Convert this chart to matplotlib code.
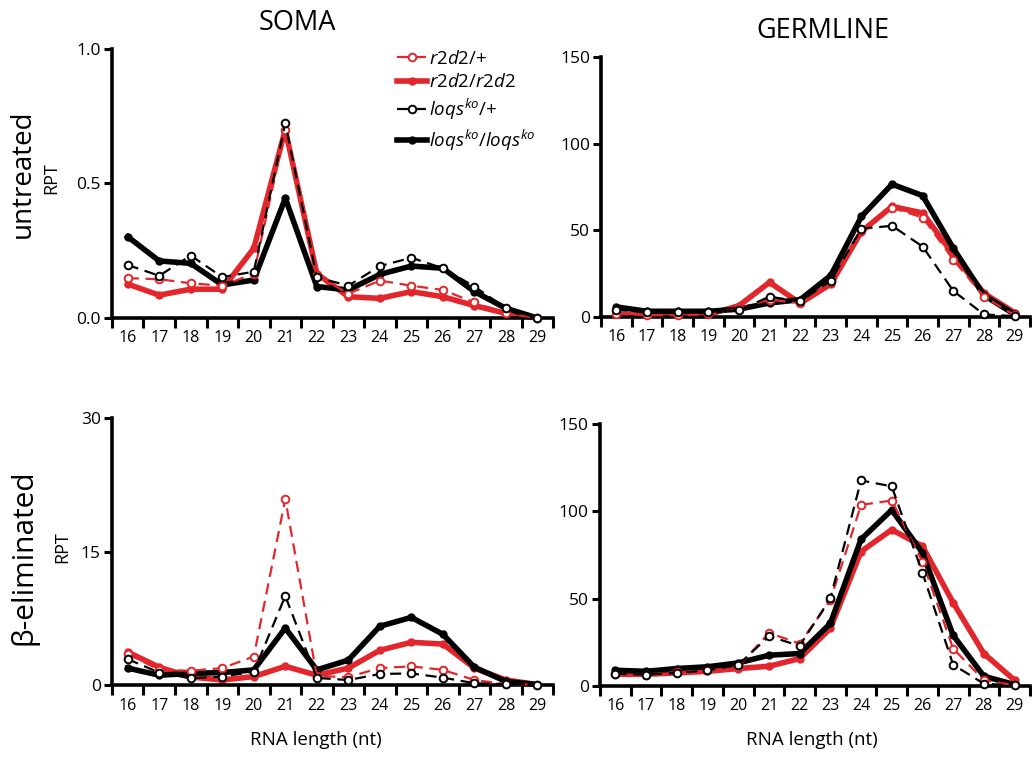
import matplotlib
matplotlib.use("Agg")
import matplotlib.pyplot as plt
import numpy as np

plt.rcParams['font.family'] = ['Open Sans', 'DejaVu Sans']
plt.rcParams['mathtext.fontset'] = 'custom'
plt.rcParams['mathtext.rm'] = 'Open Sans'
plt.rcParams['mathtext.it'] = 'Open Sans:italic'

# RNA lengths (nt)
lengths = np.arange(16, 30)

# Soma, untreated
soma_unt_r2d2_het = [0.148, 0.144, 0.129, 0.12, 0.165, 0.70, 0.16, 0.09, 0.139, 0.12, 0.104, 0.058, 0.017, 0.0]
soma_unt_r2d2_mut = [0.126, 0.085, 0.107, 0.107, 0.259, 0.70, 0.165, 0.079, 0.073, 0.098, 0.079, 0.046, 0.017, 0.0]
soma_unt_loqs_het = [0.197, 0.157, 0.232, 0.152, 0.172, 0.724, 0.151, 0.12, 0.193, 0.224, 0.185, 0.117, 0.036, 0.0]
soma_unt_loqs_mut = [0.302, 0.212, 0.203, 0.123, 0.141, 0.445, 0.117, 0.104, 0.162, 0.193, 0.185, 0.098, 0.036, 0.0]

# Germline, untreated
germ_unt_r2d2_het = [2.0, 1.0, 1.0, 1.5, 5.0, 10.0, 8.0, 21.0, 50.0, 63.0, 57.4, 33.0, 11.7, 1.0]
germ_unt_r2d2_mut = [1.5, 1.0, 1.0, 1.5, 6.5, 20.0, 7.9, 19.0, 49.3, 63.8, 60.0, 35.9, 13.7, 2.5]
germ_unt_loqs_het = [4.0, 3.0, 3.0, 3.0, 4.0, 11.7, 9.0, 21.0, 51.0, 52.6, 40.6, 15.0, 1.5, 0.5]
germ_unt_loqs_mut = [5.8, 3.3, 3.3, 3.3, 4.5, 8.1, 10.0, 24.0, 58.0, 76.6, 70.0, 39.6, 12.5, 1.5]

# Soma, beta-eliminated
soma_be_r2d2_het = [3.5, 1.7, 1.6, 1.9, 3.2, 20.9, 1.0, 0.9, 1.9, 2.1, 1.7, 0.56, 0.1, 0.05]
soma_be_r2d2_mut = [3.7, 2.0, 0.9, 0.56, 0.95, 2.1, 1.1, 1.9, 3.9, 4.8, 4.6, 1.9, 0.56, 0.05]
soma_be_loqs_het = [2.9, 1.4, 0.75, 0.95, 1.5, 10.0, 0.8, 0.56, 1.24, 1.3, 0.83, 0.2, 0.1, 0.05]
soma_be_loqs_mut = [1.9, 1.1, 1.3, 1.4, 1.7, 6.4, 1.7, 2.8, 6.6, 7.6, 5.7, 2.0, 0.4, 0.05]

# Germline, beta-eliminated
germ_be_r2d2_het = [7.0, 6.5, 8.0, 9.0, 11.0, 30.4, 24.3, 49.0, 103.7, 106.2, 71.2, 21.4, 3.3, 0.5]
germ_be_r2d2_mut = [6.7, 6.7, 7.5, 8.4, 10.0, 11.3, 15.7, 33.0, 77.0, 89.5, 80.0, 47.7, 18.6, 3.3]
germ_be_loqs_het = [7.0, 6.5, 7.5, 9.0, 12.0, 28.5, 23.0, 50.1, 117.7, 114.3, 64.8, 12.2, 1.3, 0.3]
germ_be_loqs_mut = [9.0, 8.4, 10.0, 11.0, 13.2, 17.6, 18.6, 35.8, 84.0, 100.8, 76.3, 29.0, 5.6, 0.8]

labels = ['$r2d2$/+', '$r2d2$/$r2d2$', '$loqs^{ko}$/+', '$loqs^{ko}$/$loqs^{ko}$']

red = '#e3262b'


def draw_panel(ax, series, ymax, yticks, yfmt, show_legend=False):
	r_het, r_mut, l_het, l_mut = series
	ax.plot(lengths, r_het, color=red, lw=1.6, ls=(0, (5, 3)), marker='o', ms=5.5,
			mfc='white', mec=red, mew=1.4, clip_on=False, zorder=3, label=labels[0])
	ax.plot(lengths, r_mut, color=red, lw=4, marker='o', ms=5, mfc=red, mec=red,
			clip_on=False, zorder=2, label=labels[1])
	ax.plot(lengths, l_het, color='black', lw=1.6, ls=(0, (5, 3)), marker='o', ms=5.5,
			mfc='white', mec='black', mew=1.4, clip_on=False, zorder=4, label=labels[2])
	ax.plot(lengths, l_mut, color='black', lw=4, marker='o', ms=5, mfc='black', mec='black',
			clip_on=False, zorder=2, label=labels[3])

	ax.set_xlim(15.5, 29.5)
	ax.set_ylim(0, ymax)
	ax.set_yticks(yticks)
	ax.set_yticklabels([yfmt.format(t) for t in yticks])
	ax.set_xticks(np.arange(15.5, 30, 1.0))
	ax.set_xticklabels([])
	ax.set_xticks(lengths, minor=True)
	ax.set_xticklabels([str(v) for v in lengths], minor=True)
	ax.tick_params(axis='x', which='major', length=7, width=2.2, direction='out')
	ax.tick_params(axis='x', which='minor', length=0, labelsize=11.5, pad=9)
	ax.tick_params(axis='y', length=6, width=2.2, labelsize=12.5, pad=2)

	for s in ['top', 'right']:
		ax.spines[s].set_visible(False)
	for s in ['left', 'bottom']:
		ax.spines[s].set_linewidth(2.6)

	if show_legend:
		ax.legend(loc='upper left', bbox_to_anchor=(0.63, 1.025), frameon=False,
				  fontsize=13.5, handlelength=1.6, handletextpad=0.1,
				  labelspacing=0.3, borderaxespad=0)


fig = plt.figure(figsize=(10.32, 7.58), dpi=100)

ax_tl = fig.add_axes([0.1085, 0.5805, 0.4275, 0.3549])
ax_tr = fig.add_axes([0.5824, 0.5818, 0.4156, 0.3430])
ax_bl = fig.add_axes([0.1085, 0.0963, 0.4275, 0.3522])
ax_br = fig.add_axes([0.5814, 0.0950, 0.4166, 0.3456])

draw_panel(ax_tl, [soma_unt_r2d2_het, soma_unt_r2d2_mut, soma_unt_loqs_het, soma_unt_loqs_mut],
		   1.0, [0.0, 0.5, 1.0], '{:.1f}', show_legend=True)
draw_panel(ax_tr, [germ_unt_r2d2_het, germ_unt_r2d2_mut, germ_unt_loqs_het, germ_unt_loqs_mut],
		   150, [0, 50, 100, 150], '{:d}')
draw_panel(ax_bl, [soma_be_r2d2_het, soma_be_r2d2_mut, soma_be_loqs_het, soma_be_loqs_mut],
		   30, [0, 15, 30], '{:d}')
draw_panel(ax_br, [germ_be_r2d2_het, germ_be_r2d2_mut, germ_be_loqs_het, germ_be_loqs_mut],
		   150, [0, 50, 100, 150], '{:d}')

# Titles and labels
fig.text(297 / 1032, 1 - 23 / 758, 'SOMA', fontsize=19.5, ha='center', va='center')
fig.text(823 / 1032, 1 - 31 / 758, 'GERMLINE', fontsize=19.5, ha='center', va='center')
fig.text(23 / 1032, 1 - 174 / 758, 'untreated', fontsize=20, rotation=90, ha='center', va='center')
fig.text(24 / 1032, 1 - 557 / 758, 'β-eliminated', fontsize=21.5, rotation=90, ha='center', va='center')
fig.text(51 / 1032, 1 - 178 / 758, 'RPT', fontsize=13, rotation=90, ha='center', va='center')
fig.text(62 / 1032, 1 - 547 / 758, 'RPT', fontsize=13, rotation=90, ha='center', va='center')
fig.text(316 / 1032, 1 - 740 / 758, 'RNA length (nt)', fontsize=13.5, ha='center', va='center')
fig.text(812 / 1032, 1 - 740 / 758, 'RNA length (nt)', fontsize=13.5, ha='center', va='center')

plt.savefig('out.png', dpi=100)
